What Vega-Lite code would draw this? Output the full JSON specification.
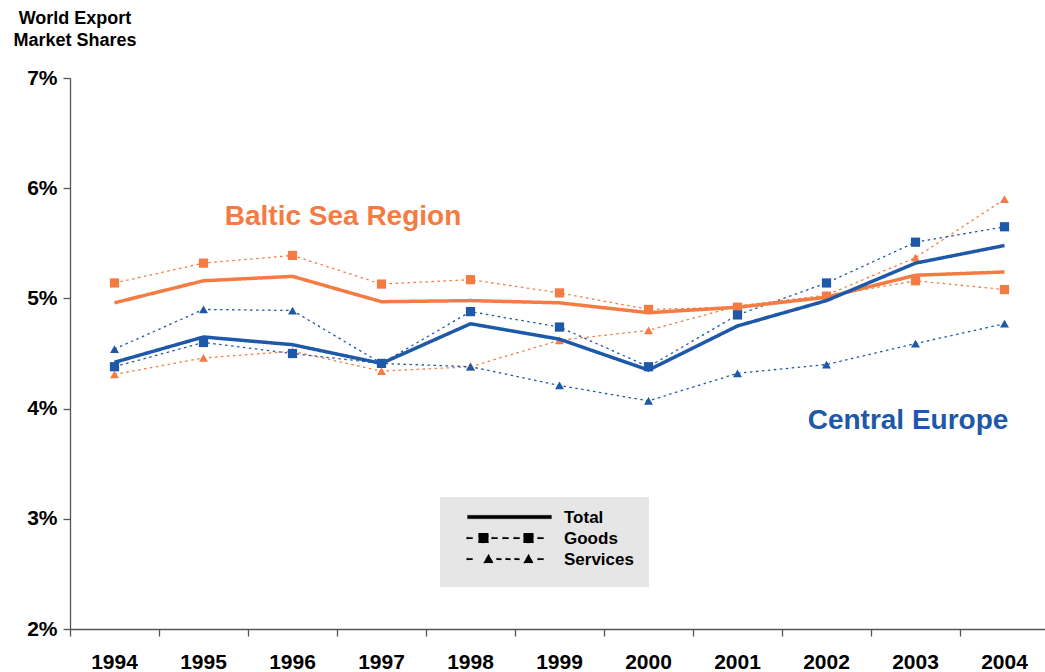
{
  "$schema": "https://vega.github.io/schema/vega-lite/v6.json",
  "autosize": {"type": "none"},
  "width": 973,
  "height": 551,
  "padding": {"left": 70, "top": 78, "right": 2, "bottom": 43},
  "background": "white",
  "title": {
    "text": ["World Export", "Market Shares"],
    "anchor": "start",
    "frame": "group",
    "align": "center",
    "dx": 5,
    "offset": 17,
    "font": "Liberation Sans",
    "fontSize": 18,
    "fontWeight": "bold",
    "lineHeight": 22,
    "color": "black"
  },
  "config": {
    "view": {"stroke": null},
    "font": "Liberation Sans",
    "axis": {
      "labelFont": "Liberation Sans",
      "labelFontWeight": "bold",
      "labelFontSize": 21,
      "labelColor": "black",
      "domainColor": "#555",
      "tickColor": "#555",
      "domainWidth": 1.3,
      "tickWidth": 1.3,
      "grid": false,
      "title": null
    }
  },
  "datasets": {
    "series": [
      {"year": "1994", "region": "Baltic Sea Region", "type": "Total", "value": 4.96},
      {"year": "1995", "region": "Baltic Sea Region", "type": "Total", "value": 5.16},
      {"year": "1996", "region": "Baltic Sea Region", "type": "Total", "value": 5.20},
      {"year": "1997", "region": "Baltic Sea Region", "type": "Total", "value": 4.97},
      {"year": "1998", "region": "Baltic Sea Region", "type": "Total", "value": 4.98},
      {"year": "1999", "region": "Baltic Sea Region", "type": "Total", "value": 4.96},
      {"year": "2000", "region": "Baltic Sea Region", "type": "Total", "value": 4.87},
      {"year": "2001", "region": "Baltic Sea Region", "type": "Total", "value": 4.92},
      {"year": "2002", "region": "Baltic Sea Region", "type": "Total", "value": 5.01},
      {"year": "2003", "region": "Baltic Sea Region", "type": "Total", "value": 5.21},
      {"year": "2004", "region": "Baltic Sea Region", "type": "Total", "value": 5.24},
      {"year": "1994", "region": "Baltic Sea Region", "type": "Goods", "value": 5.14},
      {"year": "1995", "region": "Baltic Sea Region", "type": "Goods", "value": 5.32},
      {"year": "1996", "region": "Baltic Sea Region", "type": "Goods", "value": 5.39},
      {"year": "1997", "region": "Baltic Sea Region", "type": "Goods", "value": 5.13},
      {"year": "1998", "region": "Baltic Sea Region", "type": "Goods", "value": 5.17},
      {"year": "1999", "region": "Baltic Sea Region", "type": "Goods", "value": 5.05},
      {"year": "2000", "region": "Baltic Sea Region", "type": "Goods", "value": 4.90},
      {"year": "2001", "region": "Baltic Sea Region", "type": "Goods", "value": 4.92},
      {"year": "2002", "region": "Baltic Sea Region", "type": "Goods", "value": 5.02},
      {"year": "2003", "region": "Baltic Sea Region", "type": "Goods", "value": 5.16},
      {"year": "2004", "region": "Baltic Sea Region", "type": "Goods", "value": 5.08},
      {"year": "1994", "region": "Baltic Sea Region", "type": "Services", "value": 4.31},
      {"year": "1995", "region": "Baltic Sea Region", "type": "Services", "value": 4.46},
      {"year": "1996", "region": "Baltic Sea Region", "type": "Services", "value": 4.52},
      {"year": "1997", "region": "Baltic Sea Region", "type": "Services", "value": 4.34},
      {"year": "1998", "region": "Baltic Sea Region", "type": "Services", "value": 4.38},
      {"year": "1999", "region": "Baltic Sea Region", "type": "Services", "value": 4.62},
      {"year": "2000", "region": "Baltic Sea Region", "type": "Services", "value": 4.71},
      {"year": "2001", "region": "Baltic Sea Region", "type": "Services", "value": 4.93},
      {"year": "2002", "region": "Baltic Sea Region", "type": "Services", "value": 5.03},
      {"year": "2003", "region": "Baltic Sea Region", "type": "Services", "value": 5.37},
      {"year": "2004", "region": "Baltic Sea Region", "type": "Services", "value": 5.90},
      {"year": "1994", "region": "Central Europe", "type": "Total", "value": 4.42},
      {"year": "1995", "region": "Central Europe", "type": "Total", "value": 4.65},
      {"year": "1996", "region": "Central Europe", "type": "Total", "value": 4.58},
      {"year": "1997", "region": "Central Europe", "type": "Total", "value": 4.41},
      {"year": "1998", "region": "Central Europe", "type": "Total", "value": 4.77},
      {"year": "1999", "region": "Central Europe", "type": "Total", "value": 4.63},
      {"year": "2000", "region": "Central Europe", "type": "Total", "value": 4.35},
      {"year": "2001", "region": "Central Europe", "type": "Total", "value": 4.75},
      {"year": "2002", "region": "Central Europe", "type": "Total", "value": 4.98},
      {"year": "2003", "region": "Central Europe", "type": "Total", "value": 5.32},
      {"year": "2004", "region": "Central Europe", "type": "Total", "value": 5.48},
      {"year": "1994", "region": "Central Europe", "type": "Goods", "value": 4.38},
      {"year": "1995", "region": "Central Europe", "type": "Goods", "value": 4.60},
      {"year": "1996", "region": "Central Europe", "type": "Goods", "value": 4.50},
      {"year": "1997", "region": "Central Europe", "type": "Goods", "value": 4.41},
      {"year": "1998", "region": "Central Europe", "type": "Goods", "value": 4.88},
      {"year": "1999", "region": "Central Europe", "type": "Goods", "value": 4.74},
      {"year": "2000", "region": "Central Europe", "type": "Goods", "value": 4.38},
      {"year": "2001", "region": "Central Europe", "type": "Goods", "value": 4.85},
      {"year": "2002", "region": "Central Europe", "type": "Goods", "value": 5.14},
      {"year": "2003", "region": "Central Europe", "type": "Goods", "value": 5.51},
      {"year": "2004", "region": "Central Europe", "type": "Goods", "value": 5.65},
      {"year": "1994", "region": "Central Europe", "type": "Services", "value": 4.54},
      {"year": "1995", "region": "Central Europe", "type": "Services", "value": 4.90},
      {"year": "1996", "region": "Central Europe", "type": "Services", "value": 4.89},
      {"year": "1997", "region": "Central Europe", "type": "Services", "value": 4.41},
      {"year": "1998", "region": "Central Europe", "type": "Services", "value": 4.38},
      {"year": "1999", "region": "Central Europe", "type": "Services", "value": 4.21},
      {"year": "2000", "region": "Central Europe", "type": "Services", "value": 4.07},
      {"year": "2001", "region": "Central Europe", "type": "Services", "value": 4.32},
      {"year": "2002", "region": "Central Europe", "type": "Services", "value": 4.40},
      {"year": "2003", "region": "Central Europe", "type": "Services", "value": 4.59},
      {"year": "2004", "region": "Central Europe", "type": "Services", "value": 4.77}
    ],
    "labels": [
      {"label": "Baltic Sea Region", "region": "Baltic Sea Region", "year": "1997", "value": 5.74, "shift": 6},
      {"label": "Central Europe", "region": "Central Europe", "year": "2003", "value": 3.887, "shift": 37}
    ]
  },
  "layer": [
    {
      "data": {"name": "series"},
      "transform": [{"filter": "datum.type !== 'Total'"}],
      "mark": {"type": "line", "strokeWidth": 1.3},
      "encoding": {
        "x": {
          "field": "year", "type": "ordinal",
          "scale": {"range": [0, 979], "paddingInner": 0, "paddingOuter": 0},
          "axis": {"labelAngle": 0, "bandPosition": 0, "tickSize": 7, "labelPadding": 15, "domain": true, "ticks": true}
        },
        "y": {
          "field": "value", "type": "quantitative",
          "scale": {"domain": [2, 7], "nice": false, "zero": false},
          "axis": {"values": [2, 3, 4, 5, 6, 7], "labelExpr": "datum.value + '%'", "tickSize": 7, "labelPadding": 6}
        },
        "color": {
          "field": "region", "type": "nominal",
          "scale": {"domain": ["Baltic Sea Region", "Central Europe"], "range": ["#F47B42", "#1E58A8"]},
          "legend": null
        },
        "strokeDash": {
          "field": "type", "type": "nominal",
          "scale": {"domain": ["Total", "Goods", "Services"], "range": [[1, 0], [2.5, 3.5], [2.5, 3.5]]},
          "legend": {
            "title": null,
            "orient": "none",
            "legendX": 370,
            "legendY": 419,
            "fillColor": "#e6e6e6",
            "padding": 15,
            "clipHeight": 18,
            "rowPadding": 0,
            "symbolSize": 9409,
            "symbolStrokeWidth": 0.3,
            "labelOffset": 11,
            "labelFont": "Liberation Sans",
            "labelFontSize": 17,
            "labelFontWeight": "bold",
            "labelColor": "black",
            "encode": {
              "symbols": {
                "update": {
                  "shape": {"signal": "datum.value === 'Total' ? 'M-0.753,-0.118H0.979V-0.046H-0.753Z' : datum.value === 'Goods' ? 'M-0.773,-0.1H-0.649V-0.064H-0.773ZM-0.258,-0.1H-0.134V-0.064H-0.258ZM-0.031,-0.1H0.093V-0.064H-0.031ZM0.196,-0.1H0.320V-0.064H0.196ZM0.691,-0.1H0.814V-0.064H0.691ZM-0.526,-0.185H-0.320V0.021H-0.526ZM0.402,-0.185H0.608V0.021H0.402Z' : 'M-0.773,-0.1H-0.649V-0.064H-0.773ZM-0.155,-0.1H-0.052V-0.064H-0.155ZM0.031,-0.1H0.134V-0.064H0.031ZM0.216,-0.1H0.320V-0.064H0.216ZM0.691,-0.1H0.814V-0.064H0.691ZM-0.423,0L-0.216,0L-0.320,-0.186ZM0.402,0L0.608,0L0.505,-0.186Z'"},
                  "fill": {"value": "black"},
                  "stroke": {"value": "black"},
                  "strokeDash": {"value": [1, 0]},
                  "opacity": {"value": 1}
                }
              },
              "labels": {"update": {"dy": {"value": -3}}}
            }
          }
        }
      }
    },
    {
      "data": {"name": "series"},
      "transform": [{"filter": "datum.type !== 'Total'"}],
      "mark": {"type": "point", "filled": true, "opacity": 1},
      "encoding": {
        "x": {"field": "year", "type": "ordinal"},
        "y": {"field": "value", "type": "quantitative"},
        "color": {"field": "region", "type": "nominal", "legend": null},
        "shape": {
          "field": "type", "type": "nominal",
          "scale": {"domain": ["Goods", "Services"], "range": ["square", "triangle-up"]},
          "legend": null
        },
        "size": {
          "field": "type", "type": "nominal",
          "scale": {"domain": ["Goods", "Services"], "range": [85, 80]},
          "legend": null
        }
      }
    },
    {
      "data": {"name": "series"},
      "transform": [{"filter": "datum.type === 'Total'"}],
      "mark": {"type": "line", "strokeWidth": 3.5},
      "encoding": {
        "x": {"field": "year", "type": "ordinal"},
        "y": {"field": "value", "type": "quantitative"},
        "color": {"field": "region", "type": "nominal", "legend": null},
        "strokeDash": {"field": "type", "type": "nominal"}
      }
    },
    {
      "data": {"name": "labels"},
      "mark": {"type": "text", "font": "Liberation Sans", "fontSize": 28, "fontWeight": "bold", "align": "center", "baseline": "middle"},
      "encoding": {
        "x": {"field": "year", "type": "ordinal"},
        "y": {"field": "value", "type": "quantitative"},
        "text": {"field": "label"},
        "xOffset": {"field": "shift", "type": "quantitative", "scale": null},
        "color": {"field": "region", "type": "nominal", "legend": null}
      }
    }
  ]
}
